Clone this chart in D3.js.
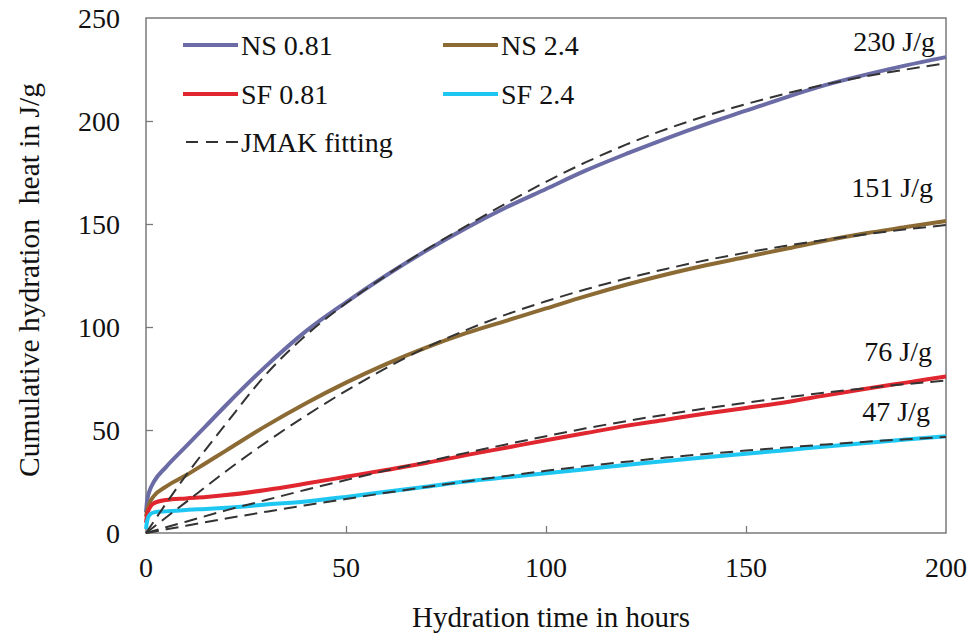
<html>
<head>
<script src="https://d3js.org/d3.v7.min.js"></script>
<style>
  body { margin: 0; background: #fff; }
  text { font-family: "Liberation Serif", "Times New Roman", serif; fill: #111; }
</style>
</head>
<body>
<svg id="chart" width="969" height="635"></svg>
<script>
// measured curves (hours, J/g)
var hours = [0, 0.3, 1, 2, 5, 10, 15, 20, 30, 40, 50, 60, 70, 80, 90, 100, 110, 120, 130, 140, 150, 160, 170, 180, 190, 200];
var ns081 = [10, 16, 21, 25, 32, 42, 52, 62, 81, 98, 112, 125, 137, 148, 158, 167, 176, 184, 191.5, 198.5, 205, 211.5, 217.5, 222.5, 227, 231];
var ns24  = [8, 11, 15, 18, 22.5, 28, 34, 40, 52, 63, 73, 82, 90, 97, 103, 109, 115, 120.5, 125.5, 130, 134, 138, 142, 145.5, 148.5, 151.5];
var sf081 = [5, 9, 12.5, 14.5, 16, 16.8, 17.5, 18.4, 20.9, 24, 27.3, 30.6, 34, 37.8, 41.4, 45, 48.5, 52, 55, 58, 60.7, 63.5, 66.8, 70, 73, 76];
var sf24  = [2, 6, 9, 10, 10.5, 11.2, 11.7, 12.3, 13.8, 15.3, 17.5, 20, 22.5, 25, 27, 29, 31, 33, 35, 36.8, 38.5, 40.2, 42, 43.7, 45.4, 47];

// JMAK fits
var fitHours  = [0, 10, 20, 30, 40, 50, 60, 70, 80, 90, 100, 110, 120, 130, 140, 150, 160, 170, 180, 190, 200];
var ns081Fit  = [0, 28, 53, 77, 96, 111.5, 125, 137.5, 149, 160, 170.5, 180, 188.5, 196, 202.5, 208.2, 213.3, 217.8, 221.7, 225, 228];
var ns24Fit   = [0, 15, 30, 44, 57, 69, 80, 90, 98.5, 106, 112.5, 118.3, 123.5, 128.2, 132.4, 136.1, 139.4, 142.4, 145, 147.4, 149.5];
var sf081Fit  = [0, 5.5, 11, 16, 21, 25.7, 30.3, 34.6, 38.9, 43, 47, 50.8, 54.3, 57.5, 60.5, 63.2, 65.8, 68.2, 70.3, 72.3, 74];
var sf24Fit   = [0, 3.5, 7, 10.3, 13.5, 16.5, 19.5, 22.3, 25, 27.7, 30.2, 32.5, 34.6, 36.6, 38.4, 40, 41.5, 43, 44.3, 45.5, 46.6];

var seriesNames = ["NS 0.81", "NS 2.4", "SF 0.81", "SF 2.4"];
var seriesColors = ["#6b6ba6", "#8c6a34", "#e0262e", "#1ec6f2"];
var endLabels = ["230 J/g", "151 J/g", "76 J/g", "47 J/g"];
var xTicks = [0, 50, 100, 150, 200];
var yTicks = [0, 50, 100, 150, 200, 250];

var solids = [ns081, ns24, sf081, sf24];
var fits = [ns081Fit, ns24Fit, sf081Fit, sf24Fit];

var svg = d3.select("#chart");
var plotLeft = 146, plotRight = 946, plotTop = 18, plotBottom = 533;

var x = d3.scaleLinear().domain([0, 200]).range([plotLeft, plotRight]);
var y = d3.scaleLinear().domain([0, 250]).range([plotBottom, plotTop]);

var frame = "#7a7a7a";

// axes, ticks pointing inside
svg.append("g")
  .attr("transform", "translate(0," + plotBottom + ")")
  .call(d3.axisTop(x).tickValues(xTicks.slice(1, -1)).tickSize(7).tickFormat(""))
  .call(function(g) { g.select(".domain").remove(); g.selectAll("line").attr("stroke", frame).attr("stroke-width", 1.3); });

svg.append("g")
  .attr("transform", "translate(" + plotLeft + ",0)")
  .call(d3.axisRight(y).tickValues(yTicks.slice(1, -1)).tickSize(7).tickFormat(""))
  .call(function(g) { g.select(".domain").remove(); g.selectAll("line").attr("stroke", frame).attr("stroke-width", 1.3); });

svg.append("rect")
  .attr("x", plotLeft).attr("y", plotTop)
  .attr("width", plotRight - plotLeft).attr("height", plotBottom - plotTop)
  .attr("fill", "none").attr("stroke", frame).attr("stroke-width", 1.5);

// tick labels
svg.selectAll(".xl").data(xTicks).enter().append("text")
  .attr("x", function(d) { return x(d); })
  .attr("y", 577)
  .attr("text-anchor", "middle")
  .attr("font-size", "28px")
  .text(function(d) { return d; });

svg.selectAll(".yl").data(yTicks).enter().append("text")
  .attr("x", 120)
  .attr("y", function(d) { return y(d); })
  .attr("dy", "0.35em")
  .attr("text-anchor", "end")
  .attr("font-size", "28px")
  .text(function(d) { return d; });

// axis titles
svg.append("text")
  .attr("x", 551).attr("y", 627)
  .attr("text-anchor", "middle")
  .attr("font-size", "29px")
  .text("Hydration time in hours");

svg.append("text")
  .attr("transform", "translate(39,280) rotate(-90)")
  .attr("text-anchor", "middle")
  .attr("font-size", "29.5px")
  .style("white-space", "pre")
  .text("Cumulative hydration  heat in J/g");

// curves
var line = d3.line()
  .x(function(d) { return x(d[0]); })
  .y(function(d) { return y(d[1]); })
  .curve(d3.curveMonotoneX);

solids.forEach(function(s, i) {
  svg.append("path")
    .attr("d", line(hours.map(function(h, j) { return [h, s[j]]; })))
    .attr("fill", "none")
    .attr("stroke", seriesColors[i])
    .attr("stroke-width", 4);
});

fits.forEach(function(s) {
  svg.append("path")
    .attr("d", line(fitHours.map(function(h, j) { return [h, s[j]]; })))
    .attr("fill", "none")
    .attr("stroke", "#333")
    .attr("stroke-width", 2)
    .attr("stroke-dasharray", "13,7");
});

// end labels
var labelY = [51, 197, 361, 421];
var labelX = [935, 933, 932, 930];
endLabels.forEach(function(t, i) {
  svg.append("text")
    .attr("x", labelX[i]).attr("y", labelY[i])
    .attr("text-anchor", "end")
    .attr("font-size", "28px")
    .text(t);
});

// legend
var legendPos = [[183, 45], [443, 45], [183, 94], [443, 94]];
seriesNames.forEach(function(n, i) {
  var p = legendPos[i];
  svg.append("line")
    .attr("x1", p[0]).attr("x2", p[0] + 55)
    .attr("y1", p[1]).attr("y2", p[1])
    .attr("stroke", seriesColors[i]).attr("stroke-width", 4);
  svg.append("text")
    .attr("x", p[0] + 58).attr("y", p[1])
    .attr("dy", "0.35em")
    .attr("font-size", "28px")
    .text(n);
});
svg.append("line")
  .attr("x1", 186).attr("x2", 238)
  .attr("y1", 142).attr("y2", 142)
  .attr("stroke", "#333").attr("stroke-width", 2)
  .attr("stroke-dasharray", "12,8");
svg.append("text")
  .attr("x", 241).attr("y", 142)
  .attr("dy", "0.35em")
  .attr("font-size", "28px")
  .text("JMAK fitting");
</script>
</body>
</html>
